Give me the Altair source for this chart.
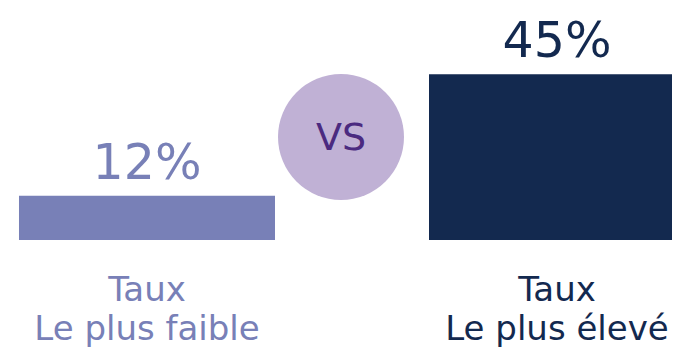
import altair as alt
import pandas as pd

# Data
categories = ["Taux\nLe plus faible", "Taux\nLe plus élevé"]
values = [12, 45]
value_labels = ["12%", "45%"]
colors = ["#7880b7", "#13294f"]
vs_label = ["VS"]

df = pd.DataFrame({"cat": categories, "value": values, "label": value_labels})
vs_df = pd.DataFrame({"t": vs_label})

FONT = "DejaVu Sans"

xscale = alt.Scale(domain=categories, range=[0, 688], paddingInner=0.3756, paddingOuter=0.0268)
yscale = alt.Scale(domain=[0, 63], range=[232, 0])
color = alt.Color("cat:N", scale=alt.Scale(domain=categories, range=colors), legend=None)

x = alt.X("cat:N", scale=xscale, axis=None, sort=categories)

bars = alt.Chart(df).mark_bar().encode(
    x=x,
    y=alt.Y("value:Q", scale=yscale, axis=None),
    color=color,
)

vals = alt.Chart(df).mark_text(
    baseline="alphabetic", dy=-17, fontSize=49, font=FONT, fontWeight=500
).encode(
    x=x,
    y=alt.Y("value:Q", scale=yscale, axis=None),
    text="label:N",
    color=color,
)

cats = alt.Chart(df).mark_text(
    baseline="alphabetic", fontSize=34, font=FONT, lineBreak="\n", lineHeight=39
).encode(
    x=x,
    y=alt.value(293),
    text="cat:N",
    color=color,
)

circle = alt.Chart(vs_df).mark_circle(size=15876, color="#c0b1d5", opacity=1).encode(
    x=alt.value(333), y=alt.value(129)
)
vs = alt.Chart(vs_df).mark_text(
    fontSize=38, font=FONT, color="#4b2a80", baseline="middle", align="center"
).encode(x=alt.value(333), y=alt.value(131), text="t:N")

chart = alt.layer(bars, vals, cats, circle, vs).properties(
    width=664, height=339, autosize=alt.AutoSizeParams(type="none"), padding=0
).configure(background="white", view=alt.ViewConfig(stroke=None))

chart.save("out.html", embed_options={"renderer": "svg", "actions": False})
